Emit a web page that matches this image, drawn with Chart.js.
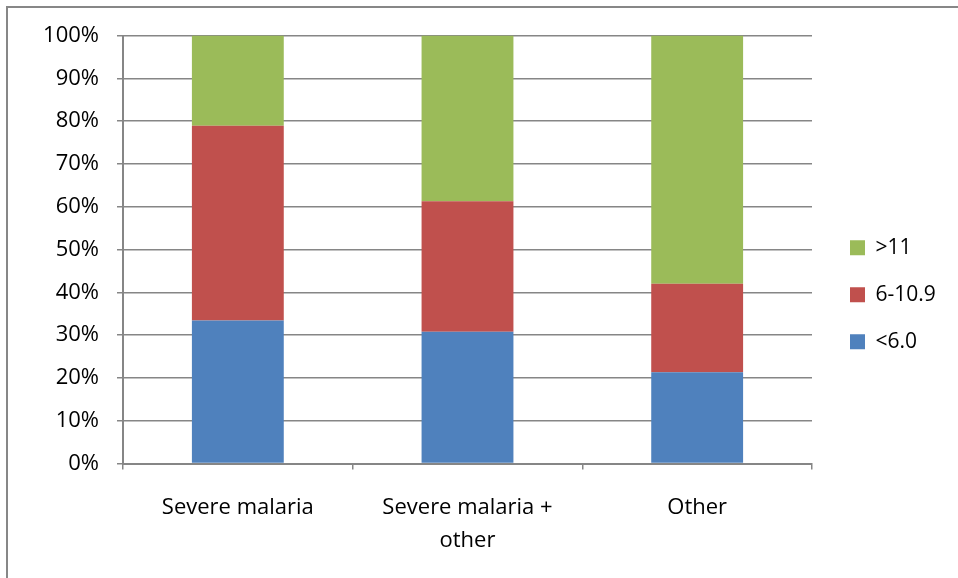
<!DOCTYPE html>
<html>
<head>
  <meta charset="utf-8">
  <title>Haemoglobin by diagnosis</title>
  <script src="https://cdn.jsdelivr.net/npm/chart.js@4.4.0/dist/chart.umd.min.js"></script>
  <style>
    body { margin: 0; background: #fff; overflow: hidden; }
    #frame {
      position: absolute;
      left: 6px;
      top: 6px;
      width: 960px;
      height: 580px;
      border: 2px solid #878787;
    }
    #chart { position: absolute; left: 0; top: 0; }
  </style>
</head>
<body>
  <div id="frame">
    <canvas id="chart" width="950" height="570"></canvas>
  </div>

  <script>
    // data (percent of each group)
    const categories = [['Severe malaria'], ['Severe malaria +', 'other'], ['Other']];
    const seriesNames = ['<6.0', '6-10.9', '>11'];
    const under6 = [33.4, 30.8, 21.3];
    const from6to11 = [45.5, 30.5, 20.7];
    const over11 = [21.1, 38.7, 58.0];
    const yTicks = [0, 10, 20, 30, 40, 50, 60, 70, 80, 90, 100];

    const gridColor = '#868686';
    const fontFamily = '"Open Sans", "Liberation Sans", sans-serif';

    // legend sits a little away from the plot, like the original
    const legendNudge = {
      id: 'legendNudge',
      afterInit(chart) {
        const lg = chart.legend;
        const fit = lg.fit.bind(lg);
        lg.fit = function () {
          fit();
          this.width = 146;
        };
      },
      afterLayout(chart) {
        const lg = chart.legend;
        lg.left += 12;
        lg.right += 12;
        lg.top -= 12;
        lg.bottom -= 12;
      }
    };

    new Chart(document.getElementById('chart'), {
      type: 'bar',
      data: {
        labels: categories,
        datasets: [
          { label: seriesNames[0], data: under6, backgroundColor: '#4F81BD' },
          { label: seriesNames[1], data: from6to11, backgroundColor: '#C0504D' },
          { label: seriesNames[2], data: over11, backgroundColor: '#9BBB59' }
        ]
      },
      options: {
        responsive: false,
        animation: false,
        barPercentage: 0.4,
        categoryPercentage: 1,
        layout: { padding: { top: 27.5 } },
        plugins: {
          tooltip: { enabled: false },
          legend: {
            position: 'right',
            reverse: true,
            labels: {
              boxWidth: 15,
              boxHeight: 15,
              padding: 26,
              color: '#000',
              font: { family: fontFamily, size: 21 }
            }
          }
        },
        scales: {
          x: {
            stacked: true,
            afterFit(scale) { scale.height = 114.5; },
            grid: {
              offset: true,
              drawOnChartArea: false,
              drawTicks: true,
              tickLength: 6,
              color: gridColor,
              lineWidth: 1.5
            },
            border: { display: true, color: gridColor, width: 2 },
            ticks: {
              color: '#000',
              padding: 22,
              maxRotation: 0,
              font: { family: fontFamily, size: 22, lineHeight: 1.5 }
            }
          },
          y: {
            stacked: true,
            min: 0,
            max: 100,
            afterFit(scale) {
              scale.width = 115;
              scale.paddingTop = 0;
              scale.paddingBottom = 0;
            },
            afterBuildTicks(scale) { scale.ticks = yTicks.map(v => ({ value: v })); },
            grid: {
              drawTicks: true,
              tickLength: 6,
              color: gridColor,
              lineWidth: 1.5
            },
            border: { display: true, color: gridColor, width: 2 },
            ticks: {
              color: '#000',
              padding: 18,
              font: { family: fontFamily, size: 22, lineHeight: 1 },
              callback: v => v + '%'
            }
          }
        }
      },
      plugins: [legendNudge]
    });
  </script>
</body>
</html>
